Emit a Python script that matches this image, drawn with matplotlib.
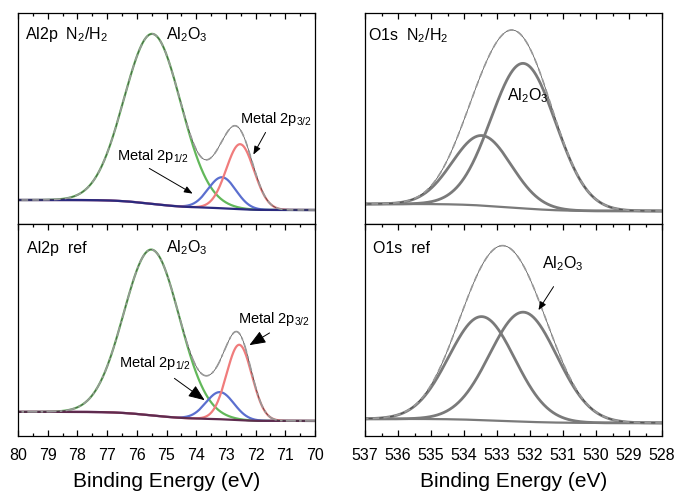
import numpy as np
import matplotlib.pyplot as plt
from matplotlib.ticker import MultipleLocator

plt.rcParams['font.family'] = ['Liberation Sans', 'DejaVu Sans']
plt.rcParams['mathtext.fontset'] = 'custom'
plt.rcParams['mathtext.rm'] = 'Liberation Sans'
plt.rcParams['mathtext.it'] = 'Liberation Sans'

# peak parameters: centre (eV), FWHM (eV), height (a.u.)
# Al2p, N2/H2 annealed
al_n2_centers = [75.47, 73.13, 72.52]   # Al2O3, metal 2p1/2, metal 2p3/2
al_n2_fwhm = [2.25, 1.1, 1.1]
al_n2_height = [170, 31, 65]
al_n2_bg = [24, 14]                     # background at high / low BE end

# Al2p, reference
al_ref_centers = [75.5, 73.2, 72.55]
al_ref_fwhm = [2.2, 1.1, 1.0]
al_ref_height = [165, 27, 75]
al_ref_bg = [24, 15]

# O1s, N2/H2 annealed
o_n2_centers = [533.46, 532.2]          # second component is Al2O3
o_n2_fwhm = [2.1, 2.3]
o_n2_height = [70, 145]
o_n2_bg = [20, 13]

# O1s, reference
o_ref_centers = [533.46, 532.2]
o_ref_fwhm = [2.35, 2.4]
o_ref_height = [103, 109]
o_ref_bg = [17, 13]


def components(x, centers, fwhm, height):
    out = []
    for c, w, h in zip(centers, fwhm, height):
        s = w / 2.3548
        out.append(h * np.exp(-0.5 * ((x - c) / s) ** 2))
    return out


def shirley(x, peaks, bg):
    # x ascending; background rises toward high binding energy
    total = np.sum(peaks, axis=0)
    cum = np.cumsum(total)
    return bg[1] + (bg[0] - bg[1]) * cum / cum[-1]


def style_axes(ax, xlim, bottom_ticks):
    ax.set_xlim(*xlim)
    ax.set_yticks([])
    ax.xaxis.set_major_locator(MultipleLocator(1))
    ax.xaxis.set_minor_locator(MultipleLocator(0.5))
    ax.tick_params(axis='x', which='both', direction='in', top=True,
                   bottom=bottom_ticks, labelbottom=bottom_ticks,
                   labelsize=11.5, pad=9)
    ax.tick_params(axis='x', which='major', length=4.5, width=0.9)
    ax.tick_params(axis='x', which='minor', length=2.5, width=0.9)
    for sp in ax.spines.values():
        sp.set_linewidth(0.9)


fig = plt.figure(figsize=(6.77, 4.92), dpi=100)
W, H = 677, 492
def rect(x0, y0, x1, y1):
    return [x0 / W, 1 - y1 / H, (x1 - x0) / W, (y1 - y0) / H]

ax_tl = fig.add_axes(rect(18, 13, 315, 224))
ax_bl = fig.add_axes(rect(18, 224, 315, 436))
ax_tr = fig.add_axes(rect(365, 13, 662, 224))
ax_br = fig.add_axes(rect(365, 224, 662, 436))

green, blue, red = '#62b85a', '#5b6fcf', '#f07c7c'

# ---- Al2p panels
xa = np.linspace(70, 80, 600)
for ax, cen, fw, hh, bgv, bgcol, envls in [
        (ax_tl, al_n2_centers, al_n2_fwhm, al_n2_height, al_n2_bg, '#2b2a7e', (0, (4, 2.5))),
        (ax_bl, al_ref_centers, al_ref_fwhm, al_ref_height, al_ref_bg, '#5e2b4e', (0, (6, 2, 1.5, 2)))]:
    pk = components(xa, cen, fw, hh)
    bg = shirley(xa, pk, bgv)
    ax.plot(xa, bg + pk[0], color=green, lw=1.6)
    ax.plot(xa, bg + pk[1], color=blue, lw=1.6)
    ax.plot(xa, bg + pk[2], color=red, lw=1.6)
    ax.plot(xa, bg, color=bgcol, lw=1.6)
    env = bg + np.sum(pk, axis=0)
    ax.plot(xa, env, color='#444444', lw=0.5)
    ax.plot(xa, env, color='#999999', lw=1.2, ls=envls)
    ax.set_ylim(0, 211)

style_axes(ax_tl, (80, 70), False)
style_axes(ax_bl, (80, 70), True)

# ---- O1s panels
xo = np.linspace(528, 537, 600)
for ax, cen, fw, hh, bgv in [
        (ax_tr, o_n2_centers, o_n2_fwhm, o_n2_height, o_n2_bg),
        (ax_br, o_ref_centers, o_ref_fwhm, o_ref_height, o_ref_bg)]:
    pk = components(xo, cen, fw, hh)
    bg = shirley(xo, pk, bgv)
    for p in pk:
        ax.plot(xo, bg + p, color='#7a7a7a', lw=2.0)
    ax.plot(xo, bg, color='#7a7a7a', lw=1.6)
    env = bg + np.sum(pk, axis=0)
    ax.plot(xo, env, color='#444444', lw=0.5)
    ax.plot(xo, env, color='#999999', lw=1.2, ls=(0, (4, 2.5)))
    ax.set_ylim(0, 211)

style_axes(ax_tr, (537, 528), False)
style_axes(ax_br, (537, 528), True)

fs = 11.5
ms = 10.5
ax_tl.text(0.024, 0.877, 'Al2p  N$_2$/H$_2$', transform=ax_tl.transAxes, fontsize=fs)
ax_tl.text(0.50, 0.877, 'Al$_2$O$_3$', transform=ax_tl.transAxes, fontsize=fs)
ax_tl.text(0.747, 0.479, 'Metal 2p$_{3/2}$', transform=ax_tl.transAxes, fontsize=ms)
ax_tl.text(0.333, 0.303, 'Metal 2p$_{1/2}$', transform=ax_tl.transAxes, fontsize=ms)
small = dict(arrowstyle='-|>,head_length=0.5,head_width=0.2', color='k', lw=0.7)
ax_tl.annotate('', xy=(72.12, 67), xytext=(71.62, 94), arrowprops=small)
ax_tl.annotate('', xy=(74.04, 29), xytext=(75.66, 57), arrowprops=small)

ax_bl.text(0.03, 0.865, 'Al2p  ref', transform=ax_bl.transAxes, fontsize=fs)
ax_bl.text(0.498, 0.865, 'Al$_2$O$_3$', transform=ax_bl.transAxes, fontsize=fs)
ax_bl.text(0.741, 0.533, 'Metal 2p$_{3/2}$', transform=ax_bl.transAxes, fontsize=ms)
ax_bl.text(0.34, 0.325, 'Metal 2p$_{1/2}$', transform=ax_bl.transAxes, fontsize=ms)
big = dict(arrowstyle='-|>,head_length=1.0,head_width=0.4', color='k', lw=0.7)
ax_bl.annotate('', xy=(72.29, 89), xytext=(71.45, 104), arrowprops=big)
ax_bl.annotate('', xy=(73.64, 34), xytext=(74.81, 59), arrowprops=big)

ax_tr.text(0.01, 0.872, 'O1s  N$_2$/H$_2$', transform=ax_tr.transAxes, fontsize=fs)
ax_tr.text(0.478, 0.588, 'Al$_2$O$_3$', transform=ax_tr.transAxes, fontsize=fs)

ax_br.text(0.027, 0.863, 'O1s  ref', transform=ax_br.transAxes, fontsize=fs)
ax_br.text(0.596, 0.79, 'Al$_2$O$_3$', transform=ax_br.transAxes, fontsize=fs)
ax_br.annotate('', xy=(531.79, 123), xytext=(531.24, 151), arrowprops=small)

ax_bl.set_xlabel('Binding Energy (eV)', fontsize=15, labelpad=6)
ax_br.set_xlabel('Binding Energy (eV)', fontsize=15, labelpad=6)

fig.savefig('out.png', dpi=100)
